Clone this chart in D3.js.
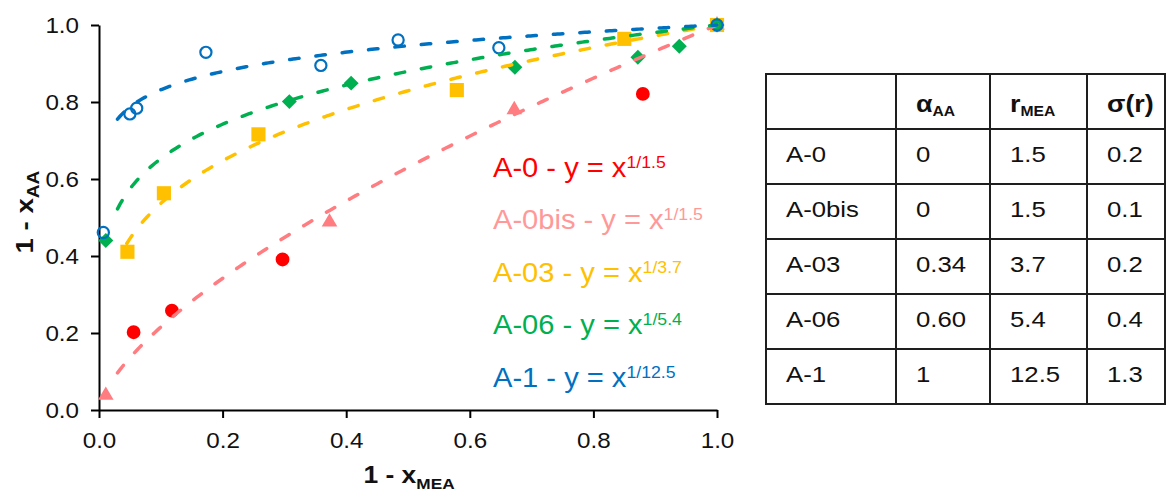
<!DOCTYPE html>
<html>
<head>
<meta charset="utf-8">
<script src="https://cdn.jsdelivr.net/npm/d3@7"></script>
<style>
  body { margin: 0; background: #fff; }
  text { font-family: "Liberation Sans", Arial, sans-serif; }
</style>
</head>
<body>
<svg id="chart" width="1166" height="491"></svg>
<script>
// series names and fitted exponents (y = x^(1/r))
var seriesNames = ["A-0", "A-0bis", "A-03", "A-06", "A-1"];
var rValues = [1.5, 1.5, 3.7, 5.4, 12.5];
var fitStartX = [0.03, 0.03, 0.045, 0.03, 0.03];

// measured points, 1 - x_MEA / 1 - x_AA
var a0X = [0.056, 0.118, 0.297, 0.880, 1.0];
var a0Y = [0.202, 0.258, 0.391, 0.821, 1.0];
var a0bisX = [0.011, 0.373, 0.672, 1.0];
var a0bisY = [0.038, 0.488, 0.780, 1.0];
var a03X = [0.046, 0.105, 0.258, 0.579, 0.850, 1.0];
var a03Y = [0.411, 0.563, 0.716, 0.831, 0.964, 1.0];
var a06X = [0.011, 0.308, 0.408, 0.673, 0.872, 0.939, 1.0];
var a06Y = [0.440, 0.801, 0.849, 0.890, 0.916, 0.945, 1.0];
var a1X = [0.007, 0.050, 0.061, 0.173, 0.359, 0.484, 0.647, 1.0];
var a1Y = [0.461, 0.769, 0.784, 0.929, 0.895, 0.961, 0.941, 1.0];

var xTicks = [0, 0.2, 0.4, 0.6, 0.8, 1.0];
var yTicks = [0, 0.2, 0.4, 0.6, 0.8, 1.0];

// table columns
var alphaAA = ["0", "0", "0.34", "0.60", "1"];
var rMEA = ["1.5", "1.5", "3.7", "5.4", "12.5"];
var sigmaR = ["0.2", "0.1", "0.2", "0.4", "1.3"];

var svg = d3.select("#chart");

var colors = ["#FF0000", "#FF7C80", "#FFC000", "#00B050", "#0070C0"];
var legendColors = ["#FF0000", "#FF9999", "#FFC000", "#00B050", "#0070C0"];

var x = d3.scaleLinear().domain([0, 1]).range([99, 717]);
var y = d3.scaleLinear().domain([0, 1]).range([410, 25]);

// text in the picture is a bit wider than Liberation Sans
function widen(sel, k) {
  sel.each(function () {
    var t = d3.select(this);
    var tx = +t.attr("x") || 0;
    t.attr("transform", "translate(" + tx + ",0) scale(" + k + ",1) translate(" + (-tx) + ",0)");
  });
}

// axes
var xAxis = svg.append("g")
  .attr("transform", "translate(0,410)")
  .call(d3.axisBottom(x).tickValues(xTicks).tickFormat(d3.format(".1f"))
    .tickSize(8).tickSizeOuter(0).tickPadding(14));
var yAxis = svg.append("g")
  .attr("transform", "translate(99,0)")
  .call(d3.axisLeft(y).tickValues(yTicks).tickFormat(d3.format(".1f"))
    .tickSize(8).tickSizeOuter(0).tickPadding(12));

[xAxis, yAxis].forEach(function (ax) {
  ax.select(".domain").attr("stroke", "#000").attr("stroke-width", 2);
  ax.selectAll(".tick line").attr("stroke", "#000").attr("stroke-width", 2);
  ax.selectAll(".tick text")
    .attr("font-size", 22)
    .attr("font-family", "Liberation Sans, Arial, sans-serif")
    .attr("fill", "#111");
  widen(ax.selectAll(".tick text"), 1.1);
});

// axis titles
var xTitle = svg.append("text")
  .attr("x", 409).attr("y", 483)
  .attr("text-anchor", "middle")
  .attr("font-size", 23).attr("font-weight", "bold").attr("fill", "#111");
xTitle.append("tspan").text("1 - x");
xTitle.append("tspan").attr("font-size", 15).attr("dy", 6).text("MEA");
widen(xTitle, 1.15);

var yTitle = svg.append("text")
  .attr("transform", "translate(33,212) rotate(-90) scale(1.2,1)")
  .attr("text-anchor", "middle")
  .attr("font-size", 23).attr("font-weight", "bold").attr("fill", "#111");
yTitle.append("tspan").text("1 - x");
yTitle.append("tspan").attr("font-size", 16).attr("dy", 6).text("AA");

// markers
var pointSets = [
  d3.zip(a0X, a0Y), d3.zip(a0bisX, a0bisY), d3.zip(a03X, a03Y),
  d3.zip(a06X, a06Y), d3.zip(a1X, a1Y)
];
var symbols = [
  d3.symbol().type(d3.symbolCircle).size(150),
  d3.symbol().type(d3.symbolTriangle).size(105),
  d3.symbol().type(d3.symbolSquare).size(200),
  d3.symbol().type(d3.symbolSquare).size(112),
  d3.symbol().type(d3.symbolCircle).size(98)
];

pointSets.forEach(function (pts, i) {
  svg.append("g").selectAll("path")
    .data(pts)
    .enter().append("path")
    .attr("d", symbols[i])
    .attr("transform", function (d) {
      return "translate(" + x(d[0]) + "," + y(d[1]) + ")" + (i === 3 ? " rotate(45)" : "");
    })
    .attr("fill", i === 4 ? "none" : colors[i])
    .attr("stroke", i === 4 ? colors[i] : "none")
    .attr("stroke-width", 2.2);
});

// fitted curves (A-0 and A-0bis share r = 1.5, drawn once in pink)
var line = d3.line()
  .x(function (d) { return x(d[0]); })
  .y(function (d) { return y(d[1]); })
  .curve(d3.curveLinear);

[1, 2, 3, 4].forEach(function (i) {
  var xs = d3.range(fitStartX[i], 1, 0.004).concat([1]);
  var curve = xs.map(function (v) { return [v, Math.pow(v, 1 / rValues[i])]; });
  svg.append("path")
    .datum(curve)
    .attr("d", line)
    .attr("fill", "none")
    .attr("stroke", colors[i])
    .attr("stroke-width", 3.5)
    .attr("stroke-linecap", "round")
    .attr("stroke-dasharray", "9.5,17");
});

// equation labels
var legend = svg.append("g");
seriesNames.forEach(function (name, i) {
  var t = legend.append("text")
    .attr("x", 493).attr("y", 177 + i * 52.5)
    .attr("font-size", 28)
    .attr("fill", legendColors[i]);
  t.append("tspan").text(name + " - y = x");
  t.append("tspan").attr("font-size", 17).attr("dy", -9).text("1/" + rValues[i]);
  widen(t, 1.04);
});

// table
var rowKeys = ["head"].concat(seriesNames);
var rowScale = d3.scaleBand().domain(rowKeys).range([74, 404]);
var colKeys = ["name", "alpha", "r", "sigma"];
var colLeft = d3.scaleOrdinal().domain(colKeys).range([766, 896, 990, 1087]);
var tableRight = 1165;
var lineColor = "#1e1e1e";

var table = svg.append("g");
table.append("rect")
  .attr("x", colLeft("name")).attr("y", rowScale.range()[0])
  .attr("width", tableRight - colLeft("name"))
  .attr("height", rowScale.range()[1] - rowScale.range()[0])
  .attr("fill", "none").attr("stroke", lineColor).attr("stroke-width", 2);

table.selectAll("line.row")
  .data(rowKeys.slice(1))
  .enter().append("line")
  .attr("class", "row")
  .attr("x1", colLeft("name")).attr("x2", tableRight)
  .attr("y1", function (d) { return rowScale(d); })
  .attr("y2", function (d) { return rowScale(d); })
  .attr("stroke", lineColor).attr("stroke-width", 2);

table.selectAll("line.col")
  .data(colKeys.slice(1))
  .enter().append("line")
  .attr("class", "col")
  .attr("x1", function (d) { return colLeft(d); })
  .attr("x2", function (d) { return colLeft(d); })
  .attr("y1", rowScale.range()[0]).attr("y2", rowScale.range()[1])
  .attr("stroke", lineColor).attr("stroke-width", 2);

// header
var headers = [["\u03b1", "AA"], ["r", "MEA"], ["\u03c3(r)", ""]];
headers.forEach(function (h, j) {
  var t = table.append("text")
    .attr("x", colLeft(colKeys[j + 1]) + 20)
    .attr("y", rowScale("head") + 38)
    .attr("font-size", 24).attr("font-weight", "bold").attr("fill", "#111");
  t.append("tspan").text(h[0]);
  if (h[1]) t.append("tspan").attr("font-size", 14).attr("dy", 4).text(h[1]);
  widen(t, 1.12);
});

// body
var columns = [seriesNames, alphaAA, rMEA, sigmaR];
seriesNames.forEach(function (name, i) {
  columns.forEach(function (col, j) {
    var t = table.append("text")
      .attr("x", colLeft(colKeys[j]) + 20)
      .attr("y", rowScale(name) + 33)
      .attr("font-size", 23).attr("fill", "#111")
      .text(col[i]);
    widen(t, 1.12);
  });
});
</script>
</body>
</html>
